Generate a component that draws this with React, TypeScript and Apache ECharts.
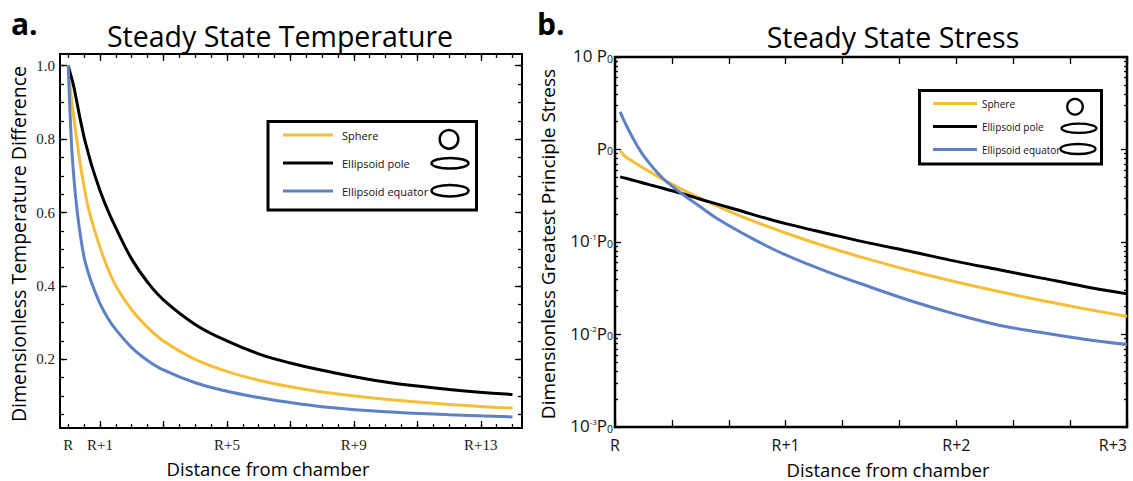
import React, { useEffect, useRef } from 'react';
import * as echarts from 'echarts';

// ---------- data ----------
const seriesNames = ['Sphere', 'Ellipsoid pole', 'Ellipsoid equator'];
const seriesColors = ['#F4BE37', '#000000', '#5E80C4'];

// Steady state temperature (distance from chamber wall, in units of R)
const tempDistance = [0, 0.025, 0.05, 0.1, 0.15, 0.2, 0.3, 0.4, 0.5, 0.6, 0.75, 1, 1.25, 1.5, 2, 2.5, 3, 4, 5, 6, 7, 8, 10, 12, 14];
const tempSphere = [1.0, 0.975, 0.952, 0.912, 0.876, 0.842, 0.78, 0.72, 0.67, 0.625, 0.575, 0.505, 0.447, 0.4, 0.335, 0.287, 0.25, 0.2, 0.167, 0.143, 0.125, 0.111, 0.091, 0.077, 0.067];
const tempPole = [1.0, 0.992, 0.984, 0.968, 0.952, 0.933, 0.888, 0.845, 0.805, 0.772, 0.725, 0.66, 0.605, 0.558, 0.473, 0.41, 0.362, 0.295, 0.25, 0.215, 0.19, 0.17, 0.138, 0.118, 0.104];
const tempEquator = [1.0, 0.94, 0.885, 0.79, 0.725, 0.672, 0.59, 0.528, 0.478, 0.445, 0.405, 0.352, 0.312, 0.281, 0.232, 0.197, 0.171, 0.136, 0.113, 0.096, 0.082, 0.071, 0.057, 0.049, 0.043];

// Steady state stress (in units of P0)
const stressDistance = [0.03, 0.06, 0.1, 0.15, 0.2, 0.25, 0.3, 0.4, 0.5, 0.6, 0.8, 1.0, 1.25, 1.5, 1.75, 2.0, 2.25, 2.5, 2.75, 3.0];
const stressSphere = [0.97, 0.84, 0.75, 0.657, 0.58, 0.512, 0.455, 0.365, 0.296, 0.244, 0.171, 0.125, 0.0877, 0.064, 0.048, 0.037, 0.0291, 0.0233, 0.019, 0.0157];
const stressPole = [0.506, 0.49, 0.468, 0.442, 0.417, 0.394, 0.372, 0.331, 0.29, 0.257, 0.2, 0.158, 0.123, 0.0966, 0.0776, 0.0617, 0.0501, 0.0407, 0.0331, 0.0275];
const stressEquator = [2.55, 1.93, 1.38, 0.955, 0.716, 0.556, 0.452, 0.324, 0.24, 0.178, 0.11, 0.0724, 0.0473, 0.0324, 0.0226, 0.0165, 0.0126, 0.0105, 0.0089, 0.0078];

// tick labels
const tempXLabelValues = [0, 1, 5, 9, 13];
const tempYLabelValues = [0.2, 0.4, 0.6, 0.8, 1.0];
const stressXLabelValues = [0, 1, 2, 3];
const stressYLabelExponents = [-3, -2, -1, 0, 1];

// ---------- helpers ----------
const range = (start: number, end: number, step: number) => {
  const out: number[] = [];
  for (let v = start; v <= end + 1e-9; v += step) out.push(Math.round(v * 1e6) / 1e6);
  return out;
};
const pairs = (xs: number[], ys: number[]) => xs.map((x, i) => [x, ys[i]]);

const TEMP_X = { min: -0.26, max: 14.3 };
const TEMP_Y = { min: 0.0128, max: 1.032 };
const STRESS_X = { min: 0, max: 3 };

const tempXMinor = range(0, 14, 0.5);
const tempXMajor = range(1, 13, 2);
const tempYMinor = range(0.05, 1.0, 0.05);
const tempYMajor = tempYLabelValues;
const stressXTicks = range(0, 3, 1 / 3);
const stressYMajor = stressYLabelExponents;
const stressYMinor: number[] = [];
for (let e = -3; e < 1; e++) for (let k = 2; k <= 9; k++) stressYMinor.push(e + Math.log10(k));

const SANS = 'Open Sans';
const SERIF = 'Liberation Serif';

const tickAxis = (extra: any) => ({
  type: 'value',
  axisLine: { show: false, onZero: false },
  splitLine: { show: false },
  axisLabel: { show: false },
  ...extra,
});

const tickStyle = (len: number, values: number[]) => ({
  show: true,
  inside: true,
  length: len,
  customValues: values,
  lineStyle: { color: '#000', width: 1.3 },
});

export default function App() {
  const ref = useRef<HTMLDivElement>(null);

  useEffect(() => {
    if (!ref.current) return;
    const chart = echarts.init(ref.current, undefined, { renderer: 'svg' });

    const supFmt = (e: number) => {
      if (e === 1) return '{n|10 }{p|P}{s|0}';
      if (e === 0) return '{p|P}{s|0}';
      return `{n|10}{e|${e}}{p|P}{s|0}`;
    };

    const option: any = {
      animation: false,
      backgroundColor: '#ffffff',
      grid: [
        { left: 60, top: 54, width: 462, height: 374, show: true, borderColor: '#000', borderWidth: 2, backgroundColor: 'transparent' },
        { left: 615, top: 57, width: 512, height: 370, show: true, borderColor: '#000', borderWidth: 2.5, backgroundColor: 'transparent' },
      ],
      xAxis: [
        tickAxis({
          gridIndex: 0, position: 'bottom', ...TEMP_X,
          axisTick: tickStyle(4, tempXMinor),
          axisLabel: {
            show: true, customValues: tempXLabelValues, margin: 9,
            fontFamily: SERIF, fontSize: 15, color: '#222',
            formatter: (v: number) => (v === 0 ? 'R' : `R+${v}`),
          },
        }),
        tickAxis({ gridIndex: 0, position: 'bottom', ...TEMP_X, axisTick: tickStyle(7, tempXMajor) }),
        tickAxis({ gridIndex: 0, position: 'top', ...TEMP_X, axisTick: tickStyle(4, tempXMinor) }),
        tickAxis({ gridIndex: 0, position: 'top', ...TEMP_X, axisTick: tickStyle(7, tempXMajor) }),
        tickAxis({
          gridIndex: 1, position: 'bottom', ...STRESS_X,
          axisTick: tickStyle(7, stressXTicks),
          axisLabel: {
            show: true, customValues: stressXLabelValues, margin: 10,
            fontFamily: SANS, fontSize: 16, color: '#111', alignMaxLabel: 'right',
            formatter: (v: number) => (v === 0 ? 'R' : `R+${Math.round(v)}`),
          },
        }),
        tickAxis({ gridIndex: 1, position: 'top', ...STRESS_X, axisTick: tickStyle(7, stressXTicks) }),
      ],
      yAxis: [
        tickAxis({
          gridIndex: 0, position: 'left', ...TEMP_Y,
          axisTick: tickStyle(4, tempYMinor),
          axisLabel: {
            show: true, customValues: tempYLabelValues, margin: 5,
            fontFamily: SERIF, fontSize: 15, color: '#222',
            formatter: (v: number) => v.toFixed(1),
          },
        }),
        tickAxis({ gridIndex: 0, position: 'left', ...TEMP_Y, axisTick: tickStyle(7, tempYMajor) }),
        tickAxis({ gridIndex: 0, position: 'right', ...TEMP_Y, axisTick: tickStyle(4, tempYMinor) }),
        tickAxis({ gridIndex: 0, position: 'right', ...TEMP_Y, axisTick: tickStyle(7, tempYMajor) }),
        {
          type: 'log', logBase: 10, gridIndex: 1, position: 'left', min: 0.001, max: 10,
          axisLine: { show: false, onZero: false }, axisTick: { show: false }, axisLabel: { show: false }, splitLine: { show: false },
        },
        tickAxis({
          gridIndex: 1, position: 'left', min: -3, max: 1,
          axisTick: tickStyle(6, stressYMajor),
          axisLabel: {
            show: true, customValues: stressYLabelExponents, margin: 2,
            formatter: (v: number) => supFmt(Math.round(v)),
            rich: {
              n: { fontFamily: SANS, fontSize: 17, color: '#111', lineHeight: 14, verticalAlign: 'bottom' },
              e: { fontFamily: SANS, fontSize: 8, color: '#111', lineHeight: 8, verticalAlign: 'bottom', padding: [0, 0, 9, 0] },
              p: { fontFamily: SANS, fontSize: 17, color: '#111', lineHeight: 14, verticalAlign: 'bottom' },
              s: { fontFamily: SANS, fontSize: 10.5, color: '#111', lineHeight: 8, verticalAlign: 'bottom' },
            },
          },
        }),
        tickAxis({ gridIndex: 1, position: 'left', min: -3, max: 1, axisTick: tickStyle(3, stressYMinor) }),
        tickAxis({ gridIndex: 1, position: 'right', min: -3, max: 1, axisTick: tickStyle(6, stressYMajor) }),
        tickAxis({ gridIndex: 1, position: 'right', min: -3, max: 1, axisTick: tickStyle(3, stressYMinor) }),
      ],
      legend: [
        {
          data: seriesNames, left: 278, top: 122, orient: 'vertical', icon: 'rect',
          itemWidth: 50, itemHeight: 3, itemGap: 12, z: 10, selectedMode: false,
          textStyle: { fontFamily: SANS, fontSize: 11, color: '#111', lineHeight: 16, padding: [0, 0, 0, 4] },
        },
        {
          data: seriesNames, left: 928, top: 92, orient: 'vertical', icon: 'rect',
          itemWidth: 44, itemHeight: 3, itemGap: 10, z: 10, selectedMode: false,
          textStyle: { fontFamily: SANS, fontSize: 10, color: '#111', lineHeight: 13, padding: [0, 0, 0, 0] },
        },
      ],
      graphic: [
        { type: 'rect', z: 3, shape: { x: 268, y: 121.5, width: 208.5, height: 88.5 }, style: { fill: '#fff', stroke: '#000', lineWidth: 3 } },
        { type: 'circle', z: 4, shape: { cx: 449, cy: 139.3, r: 9.3 }, style: { fill: 'none', stroke: '#000', lineWidth: 2.5 } },
        { type: 'ellipse', z: 4, shape: { cx: 450, cy: 163.3, rx: 18.5, ry: 5.3 }, style: { fill: 'none', stroke: '#000', lineWidth: 2.5 } },
        { type: 'ellipse', z: 4, shape: { cx: 450, cy: 190.7, rx: 18.5, ry: 5.8 }, style: { fill: 'none', stroke: '#000', lineWidth: 2.5 } },
        { type: 'rect', z: 3, shape: { x: 919.5, y: 90.5, width: 182, height: 73.5 }, style: { fill: '#fff', stroke: '#000', lineWidth: 3 } },
        { type: 'circle', z: 4, shape: { cx: 1075, cy: 106.7, r: 7.8 }, style: { fill: 'none', stroke: '#000', lineWidth: 2.3 } },
        { type: 'ellipse', z: 4, shape: { cx: 1079, cy: 128.3, rx: 17.5, ry: 4.6 }, style: { fill: 'none', stroke: '#000', lineWidth: 2.3 } },
        { type: 'ellipse', z: 4, shape: { cx: 1078, cy: 149, rx: 17.5, ry: 5 }, style: { fill: 'none', stroke: '#000', lineWidth: 2.3 } },
        { type: 'text', x: 11, y: 23, style: { text: 'a.', font: `bold 30px "${SANS}"`, fill: '#000', textVerticalAlign: 'middle' } },
        { type: 'text', x: 537, y: 23, style: { text: 'b.', font: `bold 30px "${SANS}"`, fill: '#000', textVerticalAlign: 'middle' } },
        { type: 'text', x: 280, y: 36, style: { text: 'Steady State Temperature', font: `28.5px "${SANS}"`, fill: '#000', textAlign: 'center', textVerticalAlign: 'middle' } },
        { type: 'text', x: 893, y: 37, style: { text: 'Steady State Stress', font: `28.5px "${SANS}"`, fill: '#000', textAlign: 'center', textVerticalAlign: 'middle' } },
        { type: 'text', x: 18, y: 244, rotation: Math.PI / 2, style: { text: 'Dimensionless Temperature Difference', font: `19.5px "${SANS}"`, fill: '#000', textAlign: 'center', textVerticalAlign: 'middle' } },
        { type: 'text', x: 548, y: 244, rotation: Math.PI / 2, style: { text: 'Dimensionless Greatest Principle Stress', font: `19px "${SANS}"`, fill: '#000', textAlign: 'center', textVerticalAlign: 'middle' } },
        { type: 'text', x: 268, y: 468, style: { text: 'Distance from chamber', font: `18.5px "${SANS}"`, fill: '#000', textAlign: 'center', textVerticalAlign: 'middle' } },
        { type: 'text', x: 888, y: 469, style: { text: 'Distance from chamber', font: `18.5px "${SANS}"`, fill: '#000', textAlign: 'center', textVerticalAlign: 'middle' } },
      ],
      series: [
        ...[tempSphere, tempPole, tempEquator].map((ys, i) => ({
          type: 'line', name: seriesNames[i], xAxisIndex: 0, yAxisIndex: 0,
          data: pairs(tempDistance, ys), showSymbol: false, smooth: 0.4,
          itemStyle: { color: seriesColors[i] }, lineStyle: { color: seriesColors[i], width: 3 }, z: 2,
        })),
        ...[stressSphere, stressPole, stressEquator].map((ys, i) => ({
          type: 'line', name: seriesNames[i], xAxisIndex: 4, yAxisIndex: 4,
          data: pairs(stressDistance, ys), showSymbol: false, smooth: 0.4,
          itemStyle: { color: seriesColors[i] }, lineStyle: { color: seriesColors[i], width: 3 }, z: 2,
        })),
      ],
    };

    chart.setOption(option);
    return () => chart.dispose();
  }, []);

  return <div ref={ref} style={{ position: 'absolute', left: 0, top: 0, width: 1133, height: 481, background: '#fff' }} />;
}
